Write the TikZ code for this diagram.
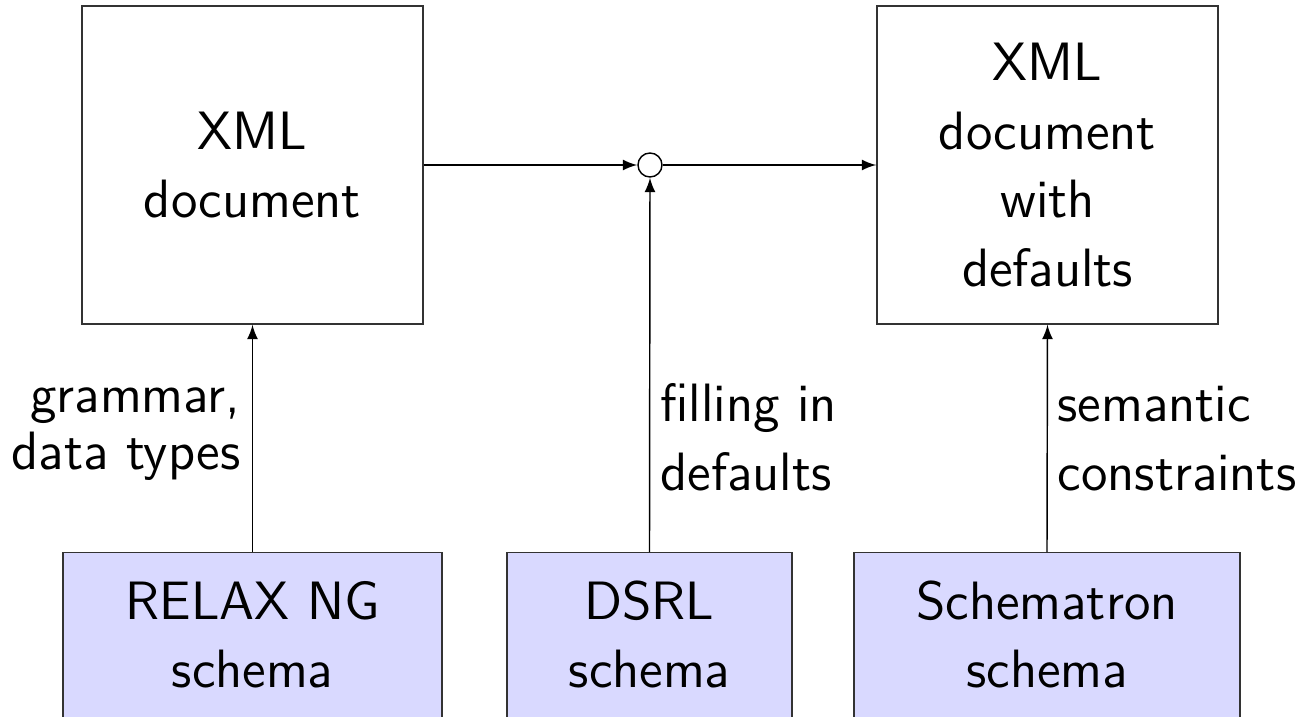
\documentclass[tikz,border=0pt]{standalone}
\usetikzlibrary{arrows}
\begin{document}
\begin{tikzpicture}[x=0.2778pt, y=-0.2778pt,
  every node/.style={font=\fontsize{15}{19}\selectfont\sffamily},
  docbox/.style={draw=black!80, line width=0.4pt, inner sep=0pt, minimum width=94.73pt, minimum height=88.34pt, align=center},
  schemabox/.style={draw=black!80, fill=blue!15, line width=0.4pt, inner sep=0pt, minimum height=50pt, align=center, anchor=north},
  junction/.style={draw, circle, inner sep=0pt, minimum size=6.67pt},
  flow/.style={-latex, line width=0.4pt},
  lbl/.style={inner sep=0pt}
]
\useasboundingbox (0,0) rectangle (1302,717);
\clip (0,0) rectangle (1302,717);

\node[docbox] (xml) at (252.5,165) {XML\\document};
\node[docbox] (out) at (1047.5,165) {XML\\document\\with\\defaults};
\node[junction] (j) at (650,165) {};

\node[schemabox, minimum width=105.3pt] (rng) at (252.5,552) {RELAX NG\\schema\rule[-4.7pt]{0pt}{4.7pt}};
\node[schemabox, minimum width=79.17pt] (dsrl) at (649.5,552) {DSRL\\schema\rule[-4.7pt]{0pt}{4.7pt}};
\node[schemabox, minimum width=107.2pt] (sch) at (1047,552) {Schematron\\schema\rule[-4.7pt]{0pt}{4.7pt}};

\draw[flow] (xml.east) -- (j.west);
\draw[flow] (j.east) -- (out.west);
\draw[flow] (dsrl.north) -- (j.south);
\draw[flow] (rng.north) -- (xml.south);
\draw[flow] (sch.north) -- (out.south);

\node[lbl, anchor=base east, align=right] (l1) at (241,469) {grammar,\\[-3.4pt]data types};
\node[lbl, anchor=base west, align=left] (l2) at (660,490) {filling in\\defaults};
\node[lbl, anchor=base west, align=left] (l3) at (1057,490) {semantic\\constraints};
\end{tikzpicture}
\end{document}
